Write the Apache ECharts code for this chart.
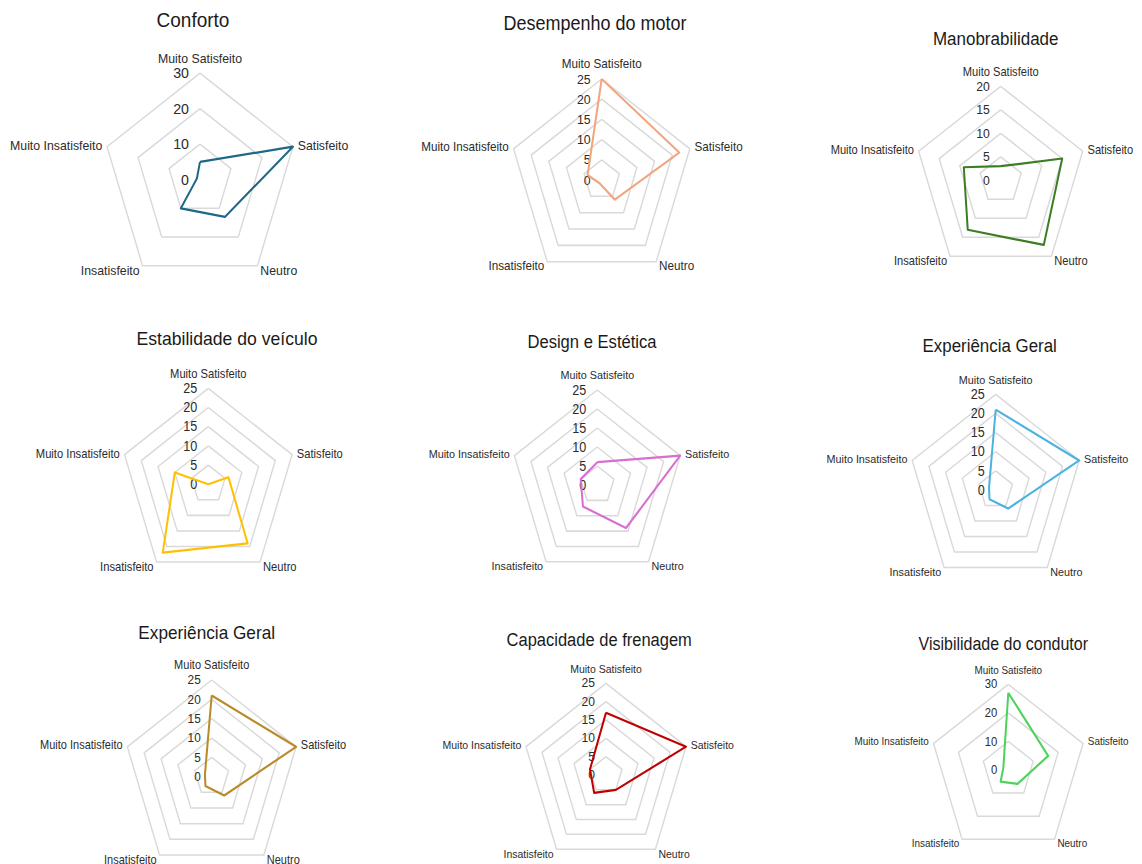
<!DOCTYPE html>
<html>
<head>
<meta charset="utf-8">
<script src="https://cdn.jsdelivr.net/npm/echarts@6/dist/echarts.min.js"></script>
<style>
  html, body { margin: 0; padding: 0; background: #fff; overflow: hidden; width: 1142px; height: 864px; }
  #chart { width: 1142px; transform-origin: 0 0; }
</style>
</head>
<body>
<div id="chart"></div>
<script>
// Survey answer levels (clockwise from the top)
const levels = ['Muito Satisfeito', 'Satisfeito', 'Neutro', 'Insatisfeito', 'Muito Insatisfeito'];

// Panel titles, row by row
const titles = [
  'Conforto', 'Desempenho do motor', 'Manobrabilidade',
  'Estabilidade do veículo', 'Design e Estética', 'Experiência Geral',
  'Experiência Geral', 'Capacidade de frenagem', 'Visibilidade do condutor'
];

// Answer counts per level, in the order of `levels`
const conforto        = [5, 30, 13, 10, 1];
const desempenho      = [25, 22, 6, 1, 4];
const manobrabilidade = [3, 15, 17, 13, 9];
const estabilidade    = [0, 6, 19, 22, 10];
const design          = [6, 25, 14, 7, 5];
const experiencia     = [21, 25, 6, 3, 2];
const experiencia2    = [21, 25, 6, 3, 2];
const frenagem        = [17, 25, 5, 6, 5];
const visibilidade    = [27, 16, 6, 5, 2];

const seriesValues = [conforto, desempenho, manobrabilidade, estabilidade, design,
                      experiencia, experiencia2, frenagem, visibilidade];

// Radial axis: maximum and tick step of each panel
const axisMax  = [30, 25, 20, 25, 25, 25, 25, 25, 30];
const axisStep = [10, 5, 5, 5, 5, 5, 5, 5, 10];

// Line colour of each panel
const lineColors = ['#1e6887', '#f2a47e', '#3b7d23', '#ffc000', '#d86ecf',
                    '#4bb2e2', '#b98a28', '#c00000', '#4dd25c'];

// Panel geometry (page pixels): title centre, plot centre, vertical radius, font sizes
const layout = [
  { t: [193, 20],    tf: 19,   c: [200, 179.6],   r: 106.5, nf: 12.3, kf: 14.2 },
  { t: [595, 23],    tf: 18,   c: [601.7, 180],   r: 101,   nf: 11.7, kf: 12.3 },
  { t: [995.7, 39],  tf: 17,   c: [1000.7, 180.3],r: 94,    nf: 11.1, kf: 12.2 },
  { t: [227, 338],   tf: 17.6, c: [208.3, 484.3], r: 96,    nf: 11.2, kf: 12.6 },
  { t: [592, 342],   tf: 16.6, c: [597.3, 485],   r: 95,    nf: 10.8, kf: 12.6 },
  { t: [989.7, 346], tf: 16.9, c: [995.7, 490],   r: 95.7,  nf: 10.8, kf: 12.6 },
  { t: [206.7, 633], tf: 17.2, c: [211.7, 776.7], r: 96.7,  nf: 11,   kf: 11.8 },
  { t: [599.2, 640], tf: 16.5, c: [606, 775],     r: 91.7,  nf: 10.5, kf: 12.1 },
  { t: [1003.3, 644],tf: 16,   c: [1008.3, 770],  r: 85.7,  nf: 9.9,  kf: 11.3 }
];

// The panels are drawn slightly taller than wide: the drawing is stretched vertically.
const S = 1.09;
const FONT = '"Liberation Sans", Arial, sans-serif';

const el = document.getElementById('chart');
el.style.height = (864 / S) + 'px';
el.style.transform = 'scaleY(' + S + ')';

// ECharts lays indicators out counter-clockwise; this order puts them clockwise.
const order = [0, 4, 3, 2, 1];

const titleOpts = [], radarOpts = [], seriesOpts = [];
layout.forEach(function (L, i) {
  titleOpts.push({
    text: titles[i],
    left: L.t[0],
    top: L.t[1] / S - L.tf / 2,
    textAlign: 'center',
    padding: 0,
    textStyle: { fontFamily: FONT, fontSize: L.tf, fontWeight: 'normal', color: '#1a1a1a', lineHeight: L.tf }
  });
  radarOpts.push({
    center: [L.c[0], L.c[1] / S],
    radius: L.r / S,
    startAngle: 90,
    shape: 'polygon',
    splitNumber: axisMax[i] / axisStep[i],
    indicator: order.map(function (k, j) {
      const ind = { name: levels[k], min: 0, max: axisMax[i], axisLabel: { show: j === 0 } };
      if (j === 0) ind.nameTextStyle = { padding: [0, 0, 3, 0] };
      return ind;
    }),
    axisName: { color: '#2b2b2b', fontFamily: FONT, fontSize: L.nf },
    axisNameGap: 5,
    axisLine: { show: false },
    axisTick: { show: false },
    axisLabel: { show: false, color: '#2b2b2b', fontFamily: FONT, fontSize: L.kf, margin: 11 },
    splitLine: { lineStyle: { color: '#d9d9d9', width: 1.4 } },
    splitArea: { show: false }
  });
  seriesOpts.push({
    type: 'radar',
    radarIndex: i,
    symbol: 'none',
    silent: true,
    lineStyle: { color: lineColors[i], width: 2 },
    data: [{ value: order.map(function (k) { return seriesValues[i][k]; }), name: titles[i] }]
  });
});

const chart = echarts.init(el, null, { renderer: 'svg' });
chart.setOption({
  animation: false,
  backgroundColor: '#fff',
  title: titleOpts,
  radar: radarOpts,
  series: seriesOpts
});
</script>
</body>
</html>
